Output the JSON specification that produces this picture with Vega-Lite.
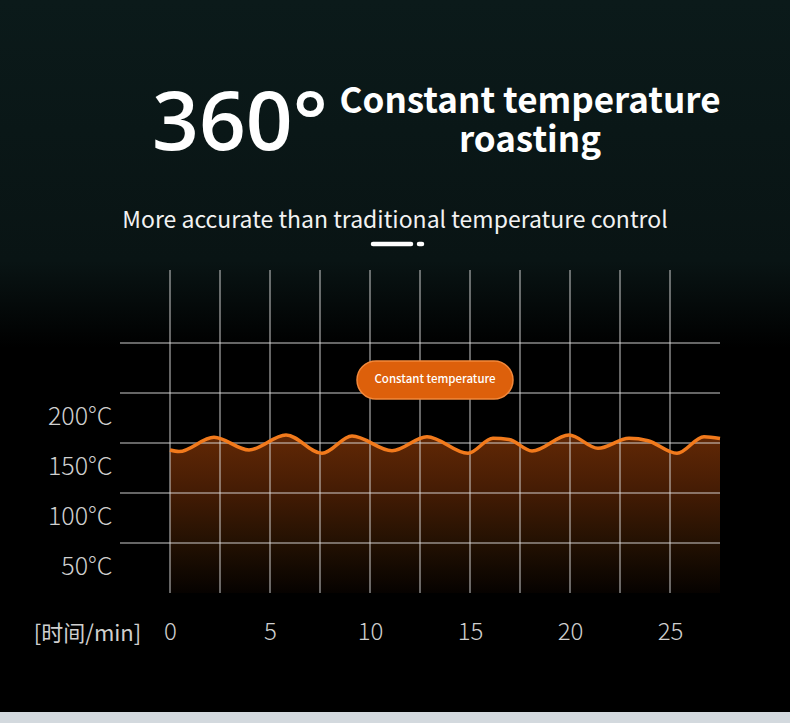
{
  "$schema": "https://vega.github.io/schema/vega-lite/v6.json",
  "width": 600,
  "height": 323,
  "autosize": {"type": "none"},
  "padding": {"left": 120, "top": 270, "right": 70, "bottom": 130},
  "background": "#000000",
  "config": {
    "view": {"stroke": null},
    "font": "Noto Sans CJK SC",
    "axis": {"domain": false, "ticks": false, "grid": false, "labelFont": "Noto Sans CJK SC", "titleFont": "Noto Sans CJK SC"}
  },
  "datasets": {
    "wave": [
      {"t": 0, "temp": 143}, {"t": 0.45, "temp": 141.5}, {"t": 2.2, "temp": 155.7}, {"t": 3.95, "temp": 143},
      {"t": 5.8, "temp": 158}, {"t": 7.6, "temp": 139.7}, {"t": 9.1, "temp": 157}, {"t": 11.1, "temp": 142.3},
      {"t": 12.85, "temp": 156.3}, {"t": 14.9, "temp": 139.7}, {"t": 16.15, "temp": 154.7}, {"t": 16.95, "temp": 153.5},
      {"t": 18.1, "temp": 142}, {"t": 19.95, "temp": 158}, {"t": 21.4, "temp": 144.7}, {"t": 22.95, "temp": 154.7},
      {"t": 23.9, "temp": 152.3}, {"t": 25.35, "temp": 139.7}, {"t": 26.7, "temp": 156.3}, {"t": 27.5, "temp": 154.5}
    ],
    "vgrid": [{"t": 0}, {"t": 2.5}, {"t": 5}, {"t": 7.5}, {"t": 10}, {"t": 12.5}, {"t": 15}, {"t": 17.5}, {"t": 20}, {"t": 22.5}, {"t": 25}],
    "hgrid": [{"temp": 50}, {"temp": 100}, {"temp": 150}, {"temp": 200}, {"temp": 250}]
  },
  "layer": [
    {
      "data": {"values": [{"t": -8.5, "t2": 31, "temp": 593, "temp2": 245}]},
      "mark": {"type": "rect", "fill": {"gradient": "linear", "x1": 0, "y1": 0, "x2": 0, "y2": 1, "stops": [{"offset": 0, "color": "#0b1a1a"}, {"offset": 0.75, "color": "#091414"}, {"offset": 1, "color": "#000000"}]}},
      "encoding": {
        "x": {"field": "t", "type": "quantitative", "scale": {"domain": [-2.5, 27.5]},
          "axis": {"values": [0, 5, 10, 15, 20, 25], "labelPadding": 27, "labelFontSize": 24, "labelColor": "#cfcfcf", "labelFontWeight": 300,
            "title": "[时间/min]", "titleX": -33, "titleY": 40, "titleBaseline": "middle", "titleAlign": "center", "titleAngle": 0,
            "titleFontSize": 22, "titleFontWeight": "normal", "titleColor": "#cfcfcf"}},
        "x2": {"field": "t2"},
        "y": {"field": "temp", "type": "quantitative", "scale": {"domain": [0, 323]},
          "axis": {"values": [50, 100, 150, 200], "labelExpr": "datum.value + '°C'", "labelOffset": 23, "labelPadding": 8,
            "labelFontSize": 25, "labelColor": "#cfcfcf", "labelFontWeight": 300, "title": null}},
        "y2": {"field": "temp2"}
      }
    },
    {
      "data": {"values": [{"t": -8.5, "t2": 31, "temp": -119, "temp2": -140}]},
      "mark": {"type": "rect", "fill": "#d3d9de"},
      "encoding": {
        "x": {"field": "t", "type": "quantitative", "scale": {"domain": [-2.5, 27.5]}},
        "x2": {"field": "t2"},
        "y": {"field": "temp", "type": "quantitative", "scale": {"domain": [0, 323]}},
        "y2": {"field": "temp2"}
      }
    },
    {
      "data": {"name": "wave"},
      "mark": {"type": "area", "interpolate": "monotone", "fill": {"gradient": "linear", "x1": 0, "y1": 0, "x2": 0, "y2": 1, "stops": [{"offset": 0, "color": "#622805"}, {"offset": 0.35, "color": "#451c04"}, {"offset": 0.7, "color": "#211002"}, {"offset": 1, "color": "#060200"}]}},
      "encoding": {
        "x": {"field": "t", "type": "quantitative", "scale": {"domain": [-2.5, 27.5]}},
        "y": {"field": "temp", "type": "quantitative", "scale": {"domain": [0, 323]}}
      }
    },
    {
      "data": {"name": "vgrid"},
      "mark": {"type": "rule", "stroke": "#e2e2e2", "strokeOpacity": 0.6, "strokeWidth": 1.5},
      "encoding": {
        "x": {"field": "t", "type": "quantitative", "scale": {"domain": [-2.5, 27.5]}}
      }
    },
    {
      "data": {"name": "hgrid"},
      "mark": {"type": "rule", "stroke": "#e2e2e2", "strokeOpacity": 0.6, "strokeWidth": 1.5},
      "encoding": {
        "y": {"field": "temp", "type": "quantitative", "scale": {"domain": [0, 323]}}
      }
    },
    {
      "data": {"name": "wave"},
      "mark": {"type": "line", "interpolate": "monotone", "stroke": "#f27a1c", "strokeWidth": 3.5},
      "encoding": {
        "x": {"field": "t", "type": "quantitative", "scale": {"domain": [-2.5, 27.5]}},
        "y": {"field": "temp", "type": "quantitative", "scale": {"domain": [0, 323]}}
      }
    },
    {
      "data": {"values": [{"t": 9.35, "t2": 17.15, "temp": 232, "temp2": 194}]},
      "mark": {"type": "rect", "fill": "#dd600b", "stroke": "#f3883a", "strokeWidth": 1.5, "cornerRadius": 19},
      "encoding": {
        "x": {"field": "t", "type": "quantitative", "scale": {"domain": [-2.5, 27.5]}},
        "x2": {"field": "t2"},
        "y": {"field": "temp", "type": "quantitative", "scale": {"domain": [0, 323]}},
        "y2": {"field": "temp2"}
      }
    },
    {
      "data": {"values": [{"label": "Constant temperature", "t": 13.25, "temp": 213}]},
      "mark": {"type": "text", "fill": "#ffffff", "fontSize": 11.5, "fontWeight": 500, "align": "center", "baseline": "middle"},
      "encoding": {
        "x": {"field": "t", "type": "quantitative", "scale": {"domain": [-2.5, 27.5]}},
        "y": {"field": "temp", "type": "quantitative", "scale": {"domain": [0, 323]}},
        "text": {"field": "label"}
      }
    },
    {
      "data": {"values": [{"label": "360°", "t": -0.9, "temp": 443}]},
      "mark": {"type": "text", "fill": "#ffffff", "font": "Open Sans", "fontSize": 82, "fontWeight": 600, "align": "left", "baseline": "alphabetic"},
      "encoding": {
        "x": {"field": "t", "type": "quantitative", "scale": {"domain": [-2.5, 27.5]}},
        "y": {"field": "temp", "type": "quantitative", "scale": {"domain": [0, 323]}},
        "text": {"field": "label"}
      }
    },
    {
      "data": {"values": [{"label": ["Constant temperature", "roasting"], "t": 18.0, "temp": 480}]},
      "mark": {"type": "text", "fill": "#ffffff", "fontSize": 35, "fontWeight": "bold", "align": "center", "baseline": "alphabetic", "lineHeight": 39},
      "encoding": {
        "x": {"field": "t", "type": "quantitative", "scale": {"domain": [-2.5, 27.5]}},
        "y": {"field": "temp", "type": "quantitative", "scale": {"domain": [0, 323]}},
        "text": {"field": "label"}
      }
    },
    {
      "data": {"values": [{"label": "More accurate than traditional temperature control", "t": 11.25, "temp": 365}]},
      "mark": {"type": "text", "fill": "#f2f2f2", "fontSize": 23, "fontWeight": "normal", "align": "center", "baseline": "alphabetic"},
      "encoding": {
        "x": {"field": "t", "type": "quantitative", "scale": {"domain": [-2.5, 27.5]}},
        "y": {"field": "temp", "type": "quantitative", "scale": {"domain": [0, 323]}},
        "text": {"field": "label"}
      }
    },
    {
      "data": {"values": [{"t": 10.15, "t2": 12.05, "temp": 349}, {"t": 12.45, "t2": 12.6, "temp": 349}]},
      "mark": {"type": "rule", "stroke": "#ffffff", "strokeWidth": 4.5, "strokeCap": "round"},
      "encoding": {
        "x": {"field": "t", "type": "quantitative", "scale": {"domain": [-2.5, 27.5]}},
        "x2": {"field": "t2"},
        "y": {"field": "temp", "type": "quantitative", "scale": {"domain": [0, 323]}}
      }
    }
  ]
}
